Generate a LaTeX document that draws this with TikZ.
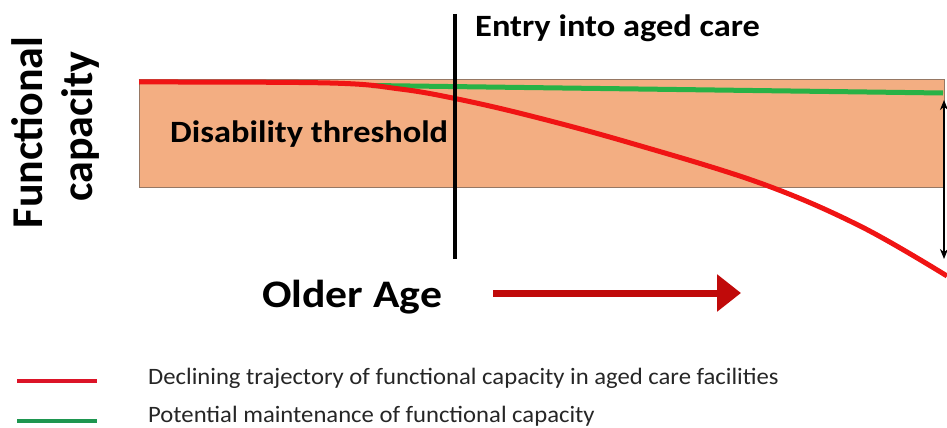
\documentclass[tikz,border=0pt]{standalone}
\usepackage{fontspec}
\setmainfont{Carlito}
\usetikzlibrary{arrows.meta}
\definecolor{peach}{RGB}{243,174,130}
\definecolor{peachedge}{RGB}{150,120,100}
\definecolor{curvered}{RGB}{240,20,20}
\definecolor{curvegreen}{RGB}{40,178,70}
\definecolor{legred}{RGB}{220,20,40}
\definecolor{leggreen}{RGB}{30,150,80}
\definecolor{arrowred}{RGB}{192,10,10}
\tikzset{
  lbl/.style={inner sep=0pt, xscale=1.11, font=\bfseries\fontsize{31}{36}\selectfont},
  leglbl/.style={inner sep=0pt, anchor=base west, xscale=1.05, text=black!85, font=\fontsize{23.5}{28}\selectfont},
  legline/.style={line width=4pt},
}
\begin{document}
\begin{tikzpicture}[x=1pt,y=-1pt]
\useasboundingbox (0,0) rectangle (947,428);
% threshold band
\node[draw=peachedge, line width=1.2pt, fill=peach, minimum width=805pt, minimum height=108pt, inner sep=0pt, anchor=north west] (band) at (139,79) {};
\node[lbl, anchor=base west] (dis) at (170,142) {Disability threshold};
% curves
\coordinate (gs) at (372,85.5);
\coordinate (ge) at (943,93);
\draw[curvegreen, line width=5pt] (gs) -- (ge);
\draw[curvered, line width=5pt] plot[smooth, tension=0.6] coordinates {(139,82) (330,83) (400,89) (455,98.5) (527,115) (627,142) (760,183) (860,226) (947,276)};
% entry line
\coordinate (vt) at (455,14);
\coordinate (vb) at (455,259);
\draw[black, line width=3.2pt] (vt) -- (vb);
\node[lbl, anchor=base west] (entry) at (475,37) {Entry into aged care};
% double arrow
\coordinate (dt) at (944,100);
\coordinate (db) at (944,259);
\draw[black, line width=1.8pt, {Stealth[length=10pt,width=8pt]}-{Stealth[length=10pt,width=8pt]}] (dt) -- (db);
% axis labels
\node[inner sep=0pt, font=\bfseries\fontsize{44}{50}\selectfont, rotate=90, anchor=base] (fc1) at (42,132.5) {Functional};
\node[inner sep=0pt, font=\bfseries\fontsize{44}{50}\selectfont, rotate=90, anchor=base] (fc2) at (92,126.5) {capacity};
\node[inner sep=0pt, xscale=1.12, font=\bfseries\fontsize{39}{45}\selectfont, anchor=base west] (age) at (262,307) {Older Age};
\coordinate (as) at (493,293);
\coordinate (ae) at (741,293);
\draw[arrowred, line width=7pt, -{Triangle[length=24pt,width=36pt]}] (as) -- (ae);
% legend
\coordinate (lr1) at (17,381);
\coordinate (lr2) at (97,381);
\coordinate (lg1) at (17,421);
\coordinate (lg2) at (97,421);
\draw[legred, legline] (lr1) -- (lr2);
\draw[leggreen, legline] (lg1) -- (lg2);
\node[leglbl] (leg1) at (148,384) {Declining trajectory of functional capacity in aged care facilities};
\node[leglbl] (leg2) at (148,422) {Potential maintenance of functional capacity};
\end{tikzpicture}
\end{document}
